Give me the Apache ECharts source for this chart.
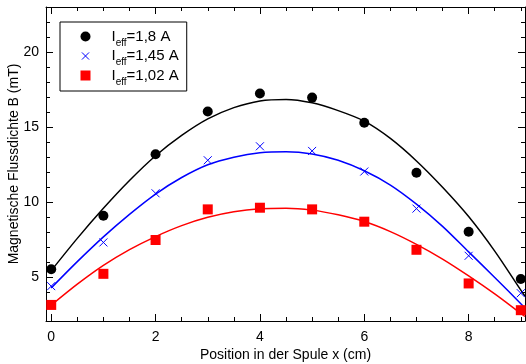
<!DOCTYPE html>
<html>
<head>
<meta charset="utf-8">
<script src="https://cdn.jsdelivr.net/npm/echarts@6/dist/echarts.min.js"></script>
<style>
  html, body { margin: 0; padding: 0; background: #fff; }
  #chart { width: 526px; height: 364px; }
</style>
</head>
<body>
<div id="chart"></div>
<script>
const positions = [0, 1, 2, 3, 4, 5, 6, 7, 8, 9];
const seriesNames = ["Ieff=1,8 A", "Ieff=1,45 A", "Ieff=1,02 A"];
const b18 = [5.55, 9.1, 13.2, 16.04, 17.24, 16.97, 15.3, 11.97, 8.04, 4.89];
const b145 = [4.42, 7.33, 10.6, 12.8, 13.73, 13.42, 12.05, 9.58, 6.44, 3.95];
const b102 = [3.17, 5.24, 7.49, 9.53, 9.64, 9.53, 8.71, 6.84, 4.6, 2.82];

// fit curves
const fitX = [0, 0.5, 1, 1.5, 2, 2.5, 3, 3.5, 4, 4.5, 5, 5.5, 6, 6.5, 7, 7.5, 8, 8.5, 9, 9.08];
const fit18 = [5.45, 7.6, 9.6, 11.45, 13.1, 14.45, 15.55, 16.3, 16.75, 16.85, 16.62, 16.1, 15.4, 14.25, 12.75, 11.0, 9.05, 6.75, 4.15, 3.75];
const fit145 = [4.3, 6.05, 7.7, 9.2, 10.55, 11.65, 12.5, 13.0, 13.3, 13.37, 13.22, 12.8, 12.1, 11.15, 9.88, 8.4, 6.7, 5.0, 3.25, 2.95];
const fit102 = [3.15, 4.55, 5.8, 6.85, 7.72, 8.45, 9.0, 9.37, 9.57, 9.61, 9.48, 9.17, 8.72, 8.05, 7.2, 6.22, 5.1, 3.9, 2.6, 2.4];

const xMajor = [0, 2, 4, 6, 8];
const xMinor = [0.5, 1, 1.5, 2.5, 3, 3.5, 4.5, 5, 5.5, 6.5, 7, 7.5, 8.5, 9];
const yMajor = [5, 10, 15, 20];
const yMinor = [3, 4, 6, 7, 8, 9, 11, 12, 13, 14, 16, 17, 18, 19, 21, 22, 23];

const font = "Liberation Sans";
const colors = ["#000000", "#0000ff", "#ff0000"];
const crossPath = "path://M0,0L10,10M10,0L0,10";
const legendCross = "path://M-2,-2M0,0L10,10M10,0L0,10M12,12";

const pairs = (xs, ys) => xs.map((x, i) => [x, ys[i]]);

const xBase = { type: "value", min: -0.1, max: 9.08, splitLine: { show: false } };
const yBase = { type: "value", min: 2.1, max: 23, splitLine: { show: false } };

const tickAxis = (base, position, values, length, main) => ({
  ...base,
  position,
  axisLine: { show: main, onZero: false, lineStyle: { color: "#000", width: 1 } },
  axisTick: { show: true, inside: true, length, customValues: values, lineStyle: { color: "#000", width: 1 } },
  axisLabel: { show: false }
});

const xAxes = [
  {
    ...tickAxis(xBase, "bottom", xMajor, 7, true),
    axisLabel: { show: true, customValues: xMajor, margin: 9, fontSize: 14, color: "#000", fontFamily: font },
    name: "Position in der Spule x (cm)",
    nameLocation: "middle",
    nameGap: 27,
    nameMoveOverlap: false,
    nameTextStyle: { fontSize: 14, color: "#000", fontFamily: font }
  },
  tickAxis(xBase, "bottom", xMinor, 4, false),
  tickAxis(xBase, "top", xMajor, 7, true),
  tickAxis(xBase, "top", xMinor, 4, false)
];

const yAxes = [
  {
    ...tickAxis(yBase, "left", yMajor, 7, true),
    axisLabel: { show: true, customValues: yMajor, margin: 7, fontSize: 14, color: "#000", fontFamily: font },
    name: "Magnetische Flussdichte B (mT)",
    nameLocation: "middle",
    nameGap: 25,
    nameMoveOverlap: false,
    nameTextStyle: { fontSize: 14, color: "#000", fontFamily: font }
  },
  tickAxis(yBase, "left", yMinor, 4, false),
  tickAxis(yBase, "right", yMajor, 7, true),
  tickAxis(yBase, "right", yMinor, 4, false)
];

const fitLine = (data, color) => ({
  type: "line",
  data,
  smooth: 0.3,
  showSymbol: false,
  silent: true,
  lineStyle: { color, width: 1.5 },
  z: 2
});

const chart = echarts.init(document.getElementById("chart"), null, { renderer: "canvas" });
chart.setOption({
  animation: false,
  grid: { left: 46, right: 1, top: 7, bottom: 43, containLabel: false, outerBoundsMode: "none" },
  xAxis: xAxes,
  yAxis: yAxes,
  legend: {
    data: [
      { name: seriesNames[0] },
      { name: seriesNames[1], icon: legendCross, itemStyle: { borderWidth: 1, borderColor: colors[1] } },
      { name: seriesNames[2] }
    ],
    orient: "vertical",
    left: 60,
    top: 22,
    padding: [7, 8, 4, 20],
    itemGap: 0.5,
    itemWidth: 10,
    itemHeight: 10,
    borderColor: "#000",
    borderWidth: 1,
    backgroundColor: "#fff",
    formatter: name => `{sp|}{n|I}{s|eff}{n|${name.replace("Ieff", "")}}`,
    textStyle: {
      color: "#000",
      fontFamily: font,
      rich: {
        sp: { width: 16 },
        n: { fontSize: 15, lineHeight: 17, fontFamily: font, color: "#000" },
        s: { fontSize: 10, fontFamily: font, color: "#000", verticalAlign: "bottom", padding: [0, 0, -3, 0] }
      }
    }
  },
  series: [
    fitLine(pairs(fitX, fit18), colors[0]),
    fitLine(pairs(fitX, fit145), colors[1]),
    fitLine(pairs(fitX, fit102), colors[2]),
    {
      name: seriesNames[0], type: "scatter", data: pairs(positions, b18),
      symbol: "circle", symbolSize: 10, itemStyle: { color: colors[0], opacity: 1 }, z: 3
    },
    {
      name: seriesNames[1], type: "scatter", data: pairs(positions, b145),
      symbol: crossPath, symbolSize: 8,
      itemStyle: { color: colors[1], borderColor: colors[1], borderWidth: 1, opacity: 1 }, z: 3
    },
    {
      name: seriesNames[2], type: "scatter", data: pairs(positions, b102),
      symbol: "rect", symbolSize: 10, itemStyle: { color: colors[2], opacity: 1 }, z: 3
    }
  ]
});
</script>
</body>
</html>
